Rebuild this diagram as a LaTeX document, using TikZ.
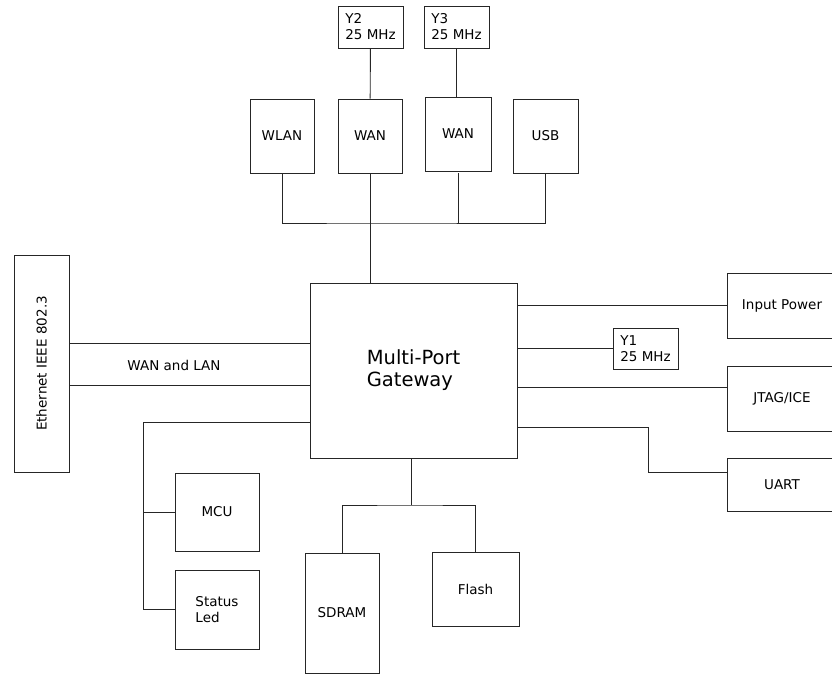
\documentclass[tikz,border=0pt]{standalone}
\usepackage{fontspec}
\setmainfont{DejaVu Sans}
\usepackage{tikz}
\usetikzlibrary{positioning, calc}

\begin{document}
\begin{tikzpicture}[
  x=1pt, y=-1pt,
  blk/.style={draw=black!85, line width=0.9pt, minimum width=#1, inner sep=0pt, align=left, font=\fontsize{13.5}{16}\selectfont},
  wire/.style={draw=black!85, line width=0.9pt},
  lbl/.style={font=\fontsize{13.5}{16}\selectfont},
]
\useasboundingbox (0,0) rectangle (832,674);

% Top row
\node[blk=65pt, minimum height=42pt] (y2) at (370.5,27) {Y2\\25 MHz};
\node[blk=65pt, minimum height=42pt] (y3) at (456.5,27) {Y3\\25 MHz};
\node[blk=64pt, minimum height=74pt] (wlan) at (282,136) {WLAN};
\node[blk=64pt, minimum height=74pt] (wan1) at (370,136) {WAN};
\node[blk=66pt, minimum height=74pt] (wan2) at (458,134) {WAN};
\node[blk=65pt, minimum height=74pt] (usb) at (545.5,136) {USB};

% Gateway
\node[blk=207pt, minimum height=175pt, font=\fontsize{19.5}{22}\selectfont] (gw) at (413.5,370.5) {Multi-Port\\Gateway};

% Left side
\node[blk=55pt, minimum height=217pt] (eth) at (41.5,363.5) {};
\node[lbl, rotate=90] (ethlbl) at (eth.center) {Ethernet IEEE 802.3};
\node[lbl] (lanlbl) at (174,365) {WAN and LAN};
\node[blk=84pt, minimum height=78pt] (mcu) at (217,512) {MCU};
\node[blk=84pt, minimum height=79pt] (led) at (217,609.5) {Status\\Led};

% Right side
\node[blk=110pt, minimum height=65pt] (pwr) at (782,305.5) {Input Power};
\node[blk=65pt, minimum height=41pt] (y1) at (645.5,348.5) {Y1\\25 MHz};
\node[blk=110pt, minimum height=65pt] (jtag) at (782,398.5) {JTAG/ICE};
\node[blk=110pt, minimum height=53pt] (uart) at (782,484.5) {UART};

% Bottom
\node[blk=74pt, minimum height=120pt] (sdram) at (342,613) {SDRAM};
\node[blk=87pt, minimum height=74pt] (flash) at (475.5,589) {Flash};

% Junctions
\coordinate (bus) at (370,223);
\coordinate (lft) at (143,422);
\coordinate (uj) at (648,427);
\coordinate (mem) at (411,505);

% Connections
\draw[wire] (y2) -- (wan1);
\draw[wire] (y3.south) -- (y3.south |- wan2.north);
\draw[wire] (wlan.south) |- (bus) -| (usb.south);
\draw[wire] (wan1.south) -- (wan1.south |- gw.north);
\draw[wire] (wan2.south |- wan1.south) -- (wan2.south |- bus);
\draw[wire] ([yshift=20.5pt]eth.east) -- ([yshift=20.5pt]eth.east -| gw.west);
\draw[wire] ([yshift=-21.5pt]eth.east) -- ([yshift=-21.5pt]eth.east -| gw.west);
\draw[wire] (gw.west |- lft) -- (lft) |- (led.west);
\draw[wire] (mcu.west) -- (mcu.west -| lft);
\draw[wire] (pwr.west) -- (pwr.west -| gw.east);
\draw[wire] (y1.west) -- (y1.west -| gw.east);
\draw[wire] (gw.east |- 0,387) -- (jtag.west |- 0,387);
\draw[wire] (gw.east |- uj) -- (uj) |- ([yshift=12.5pt]uart.west);
\draw[wire] (gw.south -| mem) -- (mem);
\draw[wire] (sdram.north) |- (mem) -| (flash.north);

\end{tikzpicture}
\end{document}
